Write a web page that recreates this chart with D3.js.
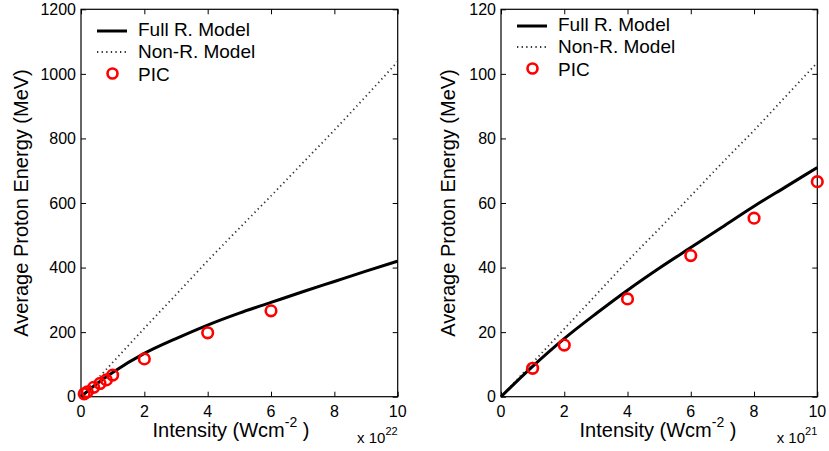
<!DOCTYPE html>
<html>
<head>
<meta charset="utf-8">
<script src="https://cdn.jsdelivr.net/npm/d3@7"></script>
<style>
  body { margin: 0; background: #fff; }
  svg { display: block; font-family: "Liberation Sans", Arial, Helvetica, sans-serif; }
  .tick-label { font-size: 16px; fill: #000; }
  .axis-title { font-size: 20px; fill: #000; }
  .legend text { font-size: 19px; fill: #000; }
</style>
</head>
<body>
<svg id="chart" width="829" height="451"></svg>
<script>
// values
var xTicks = [0, 2, 4, 6, 8, 10];
var leftYTicks = [0, 200, 400, 600, 800, 1000, 1200];
var rightYTicks = [0, 20, 40, 60, 80, 100, 120];

var curveX = [0, 0.5, 1, 2, 3, 4, 5, 6, 7, 8, 9, 10];
var leftFull = [0, 40, 75, 134, 180, 222, 259, 292, 325, 357, 389, 420];
var leftNonR = [0, 53, 106, 212, 316, 421, 522, 622, 724, 826, 931, 1038];
var rightFull = [0, 9.4, 18, 25.7, 33, 39.8, 46.2, 52.6, 59, 65, 71];
var rightFullX = [0, 1, 2, 3, 4, 5, 6, 7, 8, 9, 10];
var rightNonR = [0, 5.2, 10.5, 21, 31.5, 42, 52, 62.2, 72.5, 82.5, 93, 103.5];

var leftPicX = [0.1, 0.2, 0.4, 0.6, 0.8, 1, 2, 4, 6];
var leftPicY = [9, 15, 29, 41, 52, 67, 117, 198, 266];
var rightPicX = [1, 2, 4, 6, 8, 10];
var rightPicY = [8.8, 16, 30.3, 43.7, 55.3, 66.6];

var legendLabels = ["Full R. Model", "Non-R. Model", "PIC"];
var yTitle = "Average Proton Energy (MeV)";

var svg = d3.select("#chart");

var panels = [
  { left: 81, right: 397.7, top: 9.3, bottom: 396.7, yMax: 1200, yTicks: leftYTicks,
    full: d3.zip(curveX, leftFull), nonr: d3.zip(curveX, leftNonR), pic: d3.zip(leftPicX, leftPicY),
    exp: "22", titleX: 231, yTitleX: 28, legendY: 29 },
  { left: 501, right: 817.3, top: 9.3, bottom: 396.7, yMax: 120, yTicks: rightYTicks,
    full: d3.zip(rightFullX, rightFull), nonr: d3.zip(curveX, rightNonR), pic: d3.zip(rightPicX, rightPicY),
    exp: "21", titleX: 658, yTitleX: 455, legendY: 24 }
];

panels.forEach(function(p) {
  var x = d3.scaleLinear().domain([0, 10]).range([p.left, p.right]);
  var y = d3.scaleLinear().domain([0, p.yMax]).range([p.bottom, p.top]);
  var g = svg.append("g");

  // ticks point inward on all four sides
  g.append("g").attr("transform", "translate(0," + p.bottom + ")")
    .call(d3.axisBottom(x).tickValues(xTicks).tickSize(-5).tickFormat(""))
    .call(function(a) { a.select(".domain").remove(); });
  g.append("g").attr("transform", "translate(0," + p.top + ")")
    .call(d3.axisTop(x).tickValues(xTicks).tickSize(-5).tickFormat(""))
    .call(function(a) { a.select(".domain").remove(); });
  g.append("g").attr("transform", "translate(" + p.left + ",0)")
    .call(d3.axisLeft(y).tickValues(p.yTicks).tickSize(-5).tickFormat(""))
    .call(function(a) { a.select(".domain").remove(); });
  g.append("g").attr("transform", "translate(" + p.right + ",0)")
    .call(d3.axisRight(y).tickValues(p.yTicks).tickSize(-5).tickFormat(""))
    .call(function(a) { a.select(".domain").remove(); });
  g.selectAll(".tick line").attr("stroke", "#000").attr("stroke-width", 1);

  g.selectAll("text.xt").data(xTicks).enter().append("text")
    .attr("class", "tick-label")
    .attr("x", function(d) { return x(d); })
    .attr("y", 417)
    .attr("text-anchor", "middle")
    .text(function(d) { return d; });

  g.selectAll("text.yt").data(p.yTicks).enter().append("text")
    .attr("class", "tick-label")
    .attr("x", p.left - 5)
    .attr("y", function(d) { return y(d); })
    .attr("dy", "0.36em")
    .attr("text-anchor", "end")
    .text(function(d) { return d; });

  g.append("rect")
    .attr("x", p.left).attr("y", p.top)
    .attr("width", p.right - p.left).attr("height", p.bottom - p.top)
    .attr("fill", "none").attr("stroke", "#000").attr("stroke-width", 1.2);

  var line = d3.line()
    .x(function(d) { return x(d[0]); })
    .y(function(d) { return y(d[1]); })
    .curve(d3.curveMonotoneX);

  g.append("path").attr("d", line(p.nonr))
    .attr("fill", "none").attr("stroke", "#333")
    .attr("stroke-width", 1.8).attr("stroke-dasharray", "1.3,3.3");

  g.append("path").attr("d", line(p.full))
    .attr("fill", "none").attr("stroke", "#000").attr("stroke-width", 3);

  g.selectAll("circle.pic").data(p.pic).enter().append("circle")
    .attr("class", "pic")
    .attr("cx", function(d) { return x(d[0]); })
    .attr("cy", function(d) { return y(d[1]); })
    .attr("r", 5.3)
    .attr("fill", "none").attr("stroke", "#ff0000").attr("stroke-width", 2.6);

  // axis titles
  var xt = g.append("text").attr("class", "axis-title")
    .attr("x", p.titleX).attr("y", 437).attr("text-anchor", "middle");
  xt.append("tspan").text("Intensity (Wcm");
  xt.append("tspan").attr("dy", -10).style("font-size", "14px").text("-2");
  xt.append("tspan").attr("dy", 10).text(" )");

  g.append("text").attr("class", "axis-title")
    .attr("transform", "translate(" + p.yTitleX + "," + ((p.top + p.bottom) / 2) + ") rotate(-90)")
    .attr("text-anchor", "middle")
    .text(yTitle);

  var ex = g.append("text")
    .attr("x", p.right).attr("y", 443).attr("text-anchor", "end")
    .style("font-size", "15px");
  ex.append("tspan").text("x 10");
  ex.append("tspan").attr("dy", -8).style("font-size", "11px").text(p.exp);

  // legend
  var lg = g.append("g").attr("class", "legend")
    .attr("transform", "translate(" + p.left + "," + p.legendY + ")");
  lg.append("line").attr("x1", 16).attr("x2", 46).attr("y1", 2).attr("y2", 2)
    .attr("stroke", "#000").attr("stroke-width", 3);
  lg.append("line").attr("x1", 16).attr("x2", 46).attr("y1", 23).attr("y2", 23)
    .attr("stroke", "#333").attr("stroke-width", 1.8).attr("stroke-dasharray", "1.3,3.3");
  lg.append("circle").attr("cx", 31.5).attr("cy", 44.5).attr("r", 5)
    .attr("fill", "none").attr("stroke", "#ff0000").attr("stroke-width", 2.6);
  lg.selectAll("text").data(legendLabels).enter().append("text")
    .attr("x", 57)
    .attr("y", function(d, i) { return i * 22.3 + 7; })
    .text(function(d) { return d; });
});
</script>
</body>
</html>
